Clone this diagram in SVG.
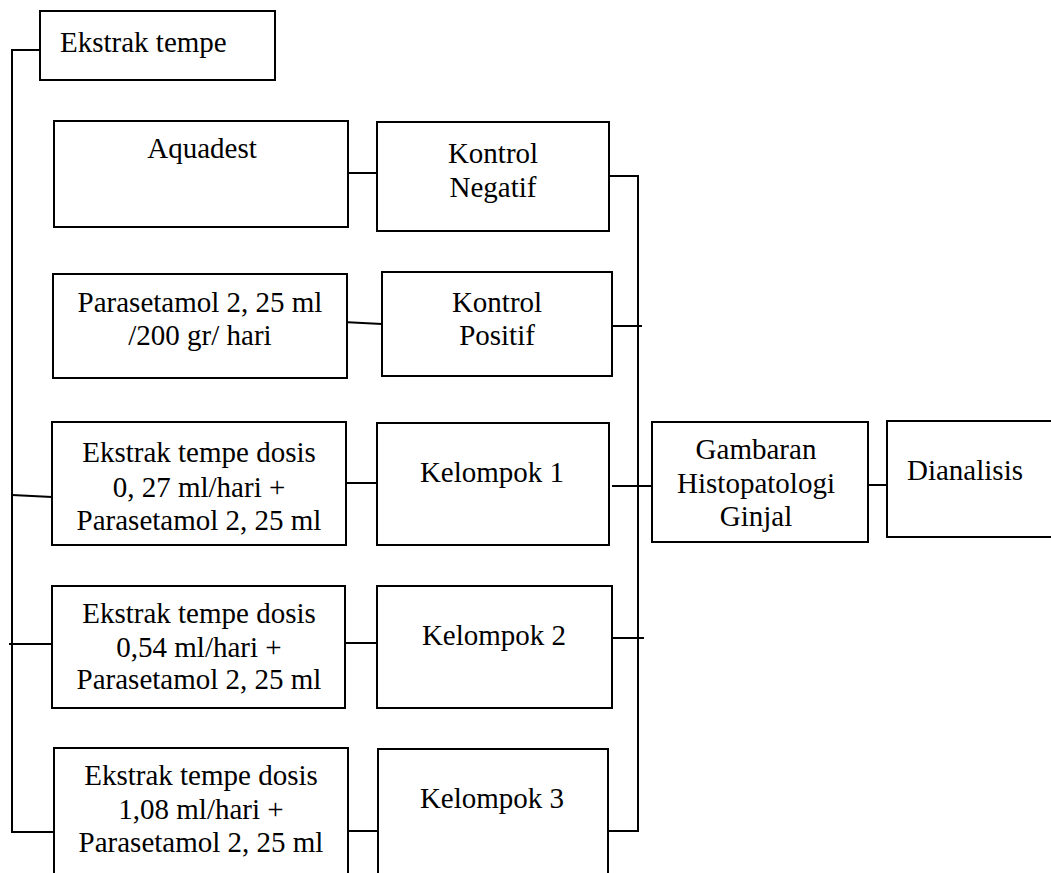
<svg xmlns="http://www.w3.org/2000/svg" width="1051" height="873" viewBox="0 0 1051 873">
<style>
.box{fill:#fff;stroke:#000;stroke-width:2}
.ln{fill:none;stroke:#000;stroke-width:2}
text{font-family:"Liberation Serif","Times New Roman",serif;font-size:29px;fill:#000}
.c{text-anchor:middle}
</style>
<rect width="1051" height="873" fill="#fff"/>
<g id="connectors">
<path class="ln" d="M40,50 H12 V832 H54"/>
<path class="ln" d="M12,495 L52,497"/>
<path class="ln" d="M9,644 H52"/>
<path class="ln" d="M347,173 H377"/>
<path class="ln" d="M343,322 L382,324"/>
<path class="ln" d="M346,483 H377"/>
<path class="ln" d="M345,643 H377"/>
<path class="ln" d="M348,831 H378"/>
<path class="ln" d="M609,176 H638 V831 H606"/>
<path class="ln" d="M612,326 H642"/>
<path class="ln" d="M612,486 H652"/>
<path class="ln" d="M612,638 H644"/>
<path class="ln" d="M865,485 H887"/>
</g>
<g id="ekstrak-tempe"><rect class="box" x="40" y="11" width="235" height="69"/><text x="60" y="52">Ekstrak tempe</text></g>
<g id="aquadest"><rect class="box" x="54" y="121" width="294" height="106"/><text class="c" x="202" y="158">Aquadest</text></g>
<g id="parasetamol"><rect class="box" x="53" y="274" width="294" height="104"/><text class="c" x="200" y="312">Parasetamol 2, 25 ml</text><text class="c" x="200" y="345">/200 gr/ hari</text></g>
<g id="dosis-027"><rect class="box" x="52" y="422" width="294" height="123"/><text class="c" x="199" y="462">Ekstrak tempe dosis</text><text class="c" x="199" y="497">0, 27 ml/hari +</text><text class="c" x="199" y="530">Parasetamol 2, 25 ml</text></g>
<g id="dosis-054"><rect class="box" x="52" y="586" width="293" height="122"/><text class="c" x="199" y="623">Ekstrak tempe dosis</text><text class="c" x="199" y="657">0,54 ml/hari +</text><text class="c" x="199" y="689">Parasetamol 2, 25 ml</text></g>
<g id="dosis-108"><rect class="box" x="54" y="748" width="294" height="140"/><text class="c" x="201" y="785">Ekstrak tempe dosis</text><text class="c" x="201" y="819">1,08 ml/hari +</text><text class="c" x="201" y="852">Parasetamol 2, 25 ml</text></g>
<g id="kontrol-negatif"><rect class="box" x="377" y="122" width="232" height="109"/><text class="c" x="493" y="163">Kontrol</text><text class="c" x="493" y="197">Negatif</text></g>
<g id="kontrol-positif"><rect class="box" x="382" y="272" width="230" height="104"/><text class="c" x="497" y="312">Kontrol</text><text class="c" x="497" y="345">Positif</text></g>
<g id="kelompok-1"><rect class="box" x="377" y="423" width="232" height="122"/><text class="c" x="492" y="482">Kelompok 1</text></g>
<g id="kelompok-2"><rect class="box" x="377" y="586" width="235" height="122"/><text class="c" x="494" y="645">Kelompok 2</text></g>
<g id="kelompok-3"><rect class="box" x="378" y="749" width="230" height="140"/><text class="c" x="492" y="808">Kelompok 3</text></g>
<g id="gambaran"><rect class="box" x="652" y="422" width="216" height="120"/><text class="c" x="756" y="459">Gambaran</text><text class="c" x="756" y="493">Histopatologi</text><text class="c" x="756" y="526">Ginjal</text></g>
<g id="dianalisis"><rect class="box" x="887" y="421" width="180" height="116"/><text x="907" y="480">Dianalisis</text></g>
</svg>
